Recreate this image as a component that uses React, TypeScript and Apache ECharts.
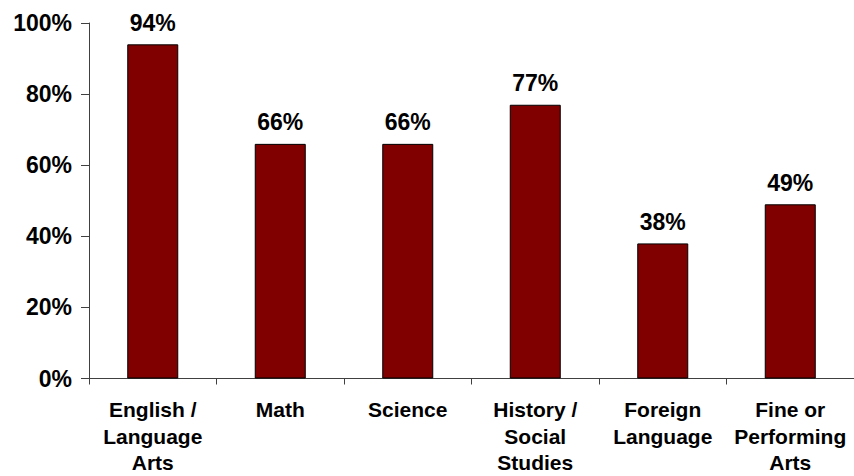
import React, { useEffect, useRef } from "react";
import * as echarts from "echarts";

const categories = [
  "English /\nLanguage\nArts",
  "Math",
  "Science",
  "History /\nSocial\nStudies",
  "Foreign\nLanguage",
  "Fine or\nPerforming\nArts",
];
const values = [94, 66, 66, 77, 38, 49];

const FONT = "'Liberation Sans', Arial, sans-serif";

export default function App() {
  const ref = useRef<HTMLDivElement>(null);
  useEffect(() => {
    if (!ref.current) return;
    const chart = echarts.init(ref.current, undefined, { renderer: "svg" });
    chart.setOption({
      animation: false,
      backgroundColor: "#ffffff",
      grid: { left: 89, right: 0, top: 23, bottom: 97, containLabel: false },
      xAxis: {
        type: "category",
        data: categories,
        axisLine: { lineStyle: { color: "#404040", width: 1 } },
        axisTick: { show: true, length: 6, lineStyle: { color: "#404040" } },
        axisLabel: {
          interval: 0,
          margin: 18,
          color: "#000",
          fontFamily: FONT,
          fontWeight: "bold",
          fontSize: 21,
          lineHeight: 26.5,
        },
      },
      yAxis: {
        type: "value",
        min: 0,
        max: 100,
        interval: 20,
        splitLine: { show: false },
        axisLine: { show: true, lineStyle: { color: "#404040", width: 1 } },
        axisTick: { show: true, length: 8, lineStyle: { color: "#404040" } },
        axisLabel: {
          formatter: "{value}%",
          margin: 17,
          color: "#000",
          fontFamily: FONT,
          fontWeight: "bold",
          fontSize: 23,
        },
      },
      series: [
        {
          type: "bar",
          data: values,
          barWidth: "40%",
          itemStyle: { color: "#800000", borderColor: "#000", borderWidth: 1 },
          label: {
            show: true,
            position: "top",
            distance: 10,
            formatter: "{c}%",
            color: "#000",
            fontFamily: FONT,
            fontWeight: "bold",
            fontSize: 23,
          },
        },
      ],
    });
    return () => chart.dispose();
  }, []);
  return <div ref={ref} style={{ width: 854, height: 476, position: "absolute", left: 0, top: 0 }} />;
}
